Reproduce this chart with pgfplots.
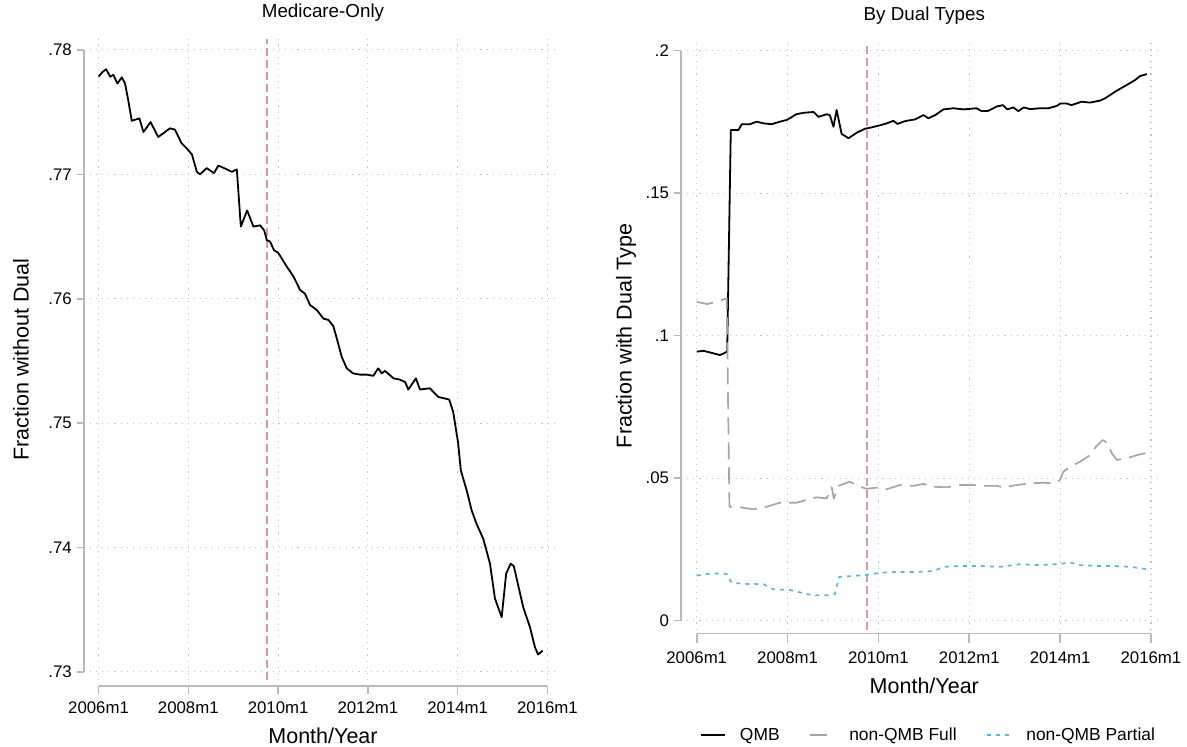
\documentclass[border=0pt]{standalone}
\usepackage{fontspec}
\setmainfont{Liberation Sans}
\usepackage{pgfplots}
\pgfplotsset{compat=1.18}

\definecolor{axgray}{RGB}{185,185,185}
\definecolor{gridgray}{RGB}{195,195,195}
\definecolor{xlinepink}{RGB}{214,150,188}
\definecolor{fullgray}{RGB}{165,165,165}
\definecolor{partblue}{RGB}{90,180,230}

\pgfplotsset{
  stata/.style={
    scale only axis,
    clip=false,
    axis line style={draw=none},
    major tick length=0pt,
    tick style={draw=none},
    grid=major,
    grid style={draw=gridgray, line width=1.1pt, dash pattern=on 1.1pt off 5pt},
    xtick={2006,2008,2010,2012,2014,2016},
    xticklabels={2006m1,2008m1,2010m1,2012m1,2014m1,2016m1},
    xticklabel style={anchor=north, inner sep=0pt, yshift=-22pt, font=\fontsize{16.8}{19}\selectfont},
    yticklabel style={anchor=east, inner sep=0pt, xshift=-18pt, font=\fontsize{16.8}{19}\selectfont},
    title style={font=\fontsize{18.8}{22}\selectfont, at={(0.5,1)}, anchor=center, yshift=20pt},
    label style={font=\fontsize{21.5}{25}\selectfont},
    xlabel={Month/Year},
  }
}

\begin{document}
\begin{tikzpicture}
\path[use as bounding box] (0,0) rectangle (1187pt,747pt);

% ---------------- Left panel ----------------
\begin{axis}[stata,
  at={(90pt,67pt)}, anchor=south west,
  width=466pt, height=641pt,
  xmin=2005.81, xmax=2016.19,
  ymin=0.72935, ymax=0.78088,
  ytick={0.73,0.74,0.75,0.76,0.77,0.78},
  yticklabels={.73,.74,.75,.76,.77,.78},
  title={Medicare-Only},
  ylabel={Fraction without Dual},
  xlabel style={at={(axis description cs:0.5,-0.0874)}, anchor=center},
  ylabel style={at={(axis description cs:-0.148,0.5)}, anchor=center},
]
\addplot[xlinepink, line width=1.6pt, dash pattern=on 8pt off 4pt, forget plot]
  coordinates {(2009.75,0.72935) (2009.75,0.78088)};
\addplot[black, line width=1.8pt, line join=round] coordinates {
(2006.00,0.77785) (2006.08,0.7782) (2006.17,0.77845) (2006.26,0.77785) (2006.33,0.7780)
(2006.42,0.7773) (2006.52,0.7778) (2006.59,0.7773) (2006.66,0.7760) (2006.74,0.7743)
(2006.91,0.7745) (2007.00,0.7734) (2007.16,0.7742) (2007.33,0.7730) (2007.48,0.7734)
(2007.59,0.7737) (2007.70,0.7736) (2007.85,0.7725) (2007.96,0.7721) (2008.08,0.7716)
(2008.19,0.7702) (2008.26,0.7700) (2008.41,0.7705) (2008.57,0.7701) (2008.67,0.7707)
(2008.86,0.7704) (2008.97,0.7702) (2009.08,0.7704) (2009.17,0.7658) (2009.31,0.7671)
(2009.45,0.7658) (2009.60,0.7659) (2009.69,0.7655) (2009.75,0.7647) (2009.82,0.7646)
(2009.91,0.7639) (2010.00,0.7637) (2010.19,0.7626) (2010.34,0.7618) (2010.49,0.7607)
(2010.60,0.7604) (2010.71,0.7595) (2010.86,0.7591) (2011.01,0.7584) (2011.12,0.7583)
(2011.23,0.7578) (2011.30,0.7569) (2011.42,0.7553) (2011.53,0.7544) (2011.67,0.7540)
(2011.82,0.7539) (2011.97,0.7539) (2012.12,0.7538) (2012.23,0.7544) (2012.31,0.7540)
(2012.38,0.7542) (2012.57,0.7536) (2012.71,0.7535) (2012.83,0.7533) (2012.90,0.7527)
(2013.07,0.7536) (2013.16,0.7527) (2013.38,0.7528) (2013.57,0.7521) (2013.81,0.7519)
(2013.90,0.7509) (2014.01,0.7484) (2014.07,0.7462) (2014.20,0.7446) (2014.31,0.7430)
(2014.42,0.7419) (2014.57,0.7407) (2014.72,0.7387) (2014.83,0.7359) (2014.98,0.7344)
(2015.08,0.7379) (2015.18,0.7387) (2015.25,0.7385) (2015.46,0.7352) (2015.61,0.7336)
(2015.72,0.7320) (2015.79,0.7314) (2015.89,0.7317)
};
% axis lines and ticks (Stata style, offset from the plot region)
\draw[axgray, line width=1.6pt] ([xshift=-6pt]axis cs:2005.81,0.73) -- ([xshift=-6pt]axis cs:2005.81,0.78);
\pgfplotsinvokeforeach{0.73,0.74,0.75,0.76,0.77,0.78}{
  \draw[axgray, line width=1.6pt] ([xshift=-6pt]axis cs:2005.81,#1) -- ([xshift=-13pt]axis cs:2005.81,#1);
}
\draw[axgray, line width=1.6pt] ([yshift=-6pt]axis cs:2006,0.72935) -- ([yshift=-6pt]axis cs:2016,0.72935);
\pgfplotsinvokeforeach{2006,2008,2010,2012,2014,2016}{
  \draw[axgray, line width=1.6pt] ([yshift=-6pt]axis cs:#1,0.72935) -- ([yshift=-14pt]axis cs:#1,0.72935);
}
\end{axis}

% ---------------- Right panel ----------------
\begin{axis}[stata,
  at={(687.2pt,117.3pt)}, anchor=south west,
  width=474.2pt, height=588pt,
  xmin=2005.79, xmax=2016.23,
  ymin=-0.00316, ymax=0.20316,
  ytick={0,0.05,0.1,0.15,0.2},
  yticklabels={0,.05,.1,.15,.2},
  title={By Dual Types},
  ylabel={Fraction with Dual Type},
  xlabel style={at={(axis description cs:0.5,-0.0952)}, anchor=center},
  ylabel style={at={(axis description cs:-0.129,0.5)}, anchor=center},
  legend style={at={(axis description cs:0.509,-0.179)}, anchor=center,
    draw=none, fill=none, legend columns=3,
    font=\fontsize{17.4}{20}\selectfont,
    /tikz/every odd column/.append style={column sep=12pt},
    /tikz/every even column/.append style={column sep=28pt}},
  legend image code/.code={\draw[#1] (0pt,0pt) -- (24pt,0pt);},
]
\addplot[xlinepink, line width=1.6pt, dash pattern=on 8pt off 4pt, forget plot]
  coordinates {(2009.75,-0.00316) (2009.75,0.20316)};
\addplot[black, line width=1.8pt, line join=round] coordinates {
(2006.00,0.0944) (2006.15,0.0947) (2006.22,0.0944) (2006.37,0.0938) (2006.51,0.0932)
(2006.62,0.0940) (2006.67,0.0944) (2006.75,0.1722) (2006.92,0.1722) (2006.99,0.1742)
(2007.17,0.1742) (2007.32,0.1751) (2007.47,0.1745) (2007.65,0.1742) (2007.83,0.1751)
(2007.98,0.1757) (2008.05,0.1763) (2008.19,0.1777) (2008.35,0.1782) (2008.57,0.1785)
(2008.68,0.1768) (2008.86,0.1777) (2008.93,0.1774) (2009.01,0.1733) (2009.08,0.1792)
(2009.19,0.1708) (2009.34,0.1693) (2009.52,0.1712) (2009.70,0.1726) (2009.85,0.1731)
(2010.03,0.1738) (2010.18,0.1745) (2010.33,0.1754) (2010.42,0.1743) (2010.55,0.1751)
(2010.62,0.1754) (2010.81,0.1759) (2010.99,0.1774) (2011.10,0.1763) (2011.25,0.1774)
(2011.43,0.1794) (2011.65,0.1798) (2011.87,0.1794) (2012.16,0.1798) (2012.27,0.1788)
(2012.42,0.1789) (2012.60,0.1804) (2012.74,0.1809) (2012.84,0.1794) (2012.97,0.1801)
(2013.08,0.1788) (2013.20,0.1801) (2013.34,0.1795) (2013.56,0.1798) (2013.74,0.1798)
(2013.92,0.1806) (2014.01,0.1815) (2014.14,0.1815) (2014.25,0.1809) (2014.47,0.1821)
(2014.66,0.1818) (2014.88,0.1825) (2014.99,0.1833) (2015.25,0.1860) (2015.47,0.1880)
(2015.65,0.1897) (2015.76,0.1911) (2015.91,0.1918)
};
\addlegendentry{QMB}
\addplot[fullgray, line width=1.7pt, dash pattern=on 17pt off 8pt, line join=round] coordinates {
(2006.00,0.1119) (2006.22,0.1111) (2006.44,0.1119) (2006.66,0.1131) (2006.72,0.0400)
(2006.95,0.0398) (2007.25,0.0391) (2007.54,0.0400) (2007.83,0.0414) (2008.20,0.0414)
(2008.42,0.0424) (2008.64,0.0433) (2008.86,0.0429) (2008.97,0.0468) (2009.02,0.0429)
(2009.12,0.0473) (2009.37,0.0488) (2009.59,0.0470) (2009.74,0.0463) (2010.03,0.0468)
(2010.18,0.0461) (2010.47,0.0476) (2010.77,0.0473) (2010.99,0.0480) (2011.21,0.0470)
(2011.50,0.0468) (2011.80,0.0476) (2012.09,0.0476) (2012.38,0.0473) (2012.60,0.0473)
(2012.75,0.0468) (2013.04,0.0476) (2013.34,0.0482) (2013.63,0.0484) (2013.85,0.0482)
(2014.00,0.0494) (2014.07,0.0523) (2014.22,0.0540) (2014.44,0.0558) (2014.66,0.0581)
(2014.80,0.0613) (2014.94,0.0634) (2015.03,0.0625) (2015.14,0.0587) (2015.25,0.0564)
(2015.47,0.0570) (2015.69,0.0581) (2015.91,0.0589)
};
\addlegendentry{non-QMB Full}
\addplot[partblue, line width=1.7pt, dash pattern=on 4pt off 5pt, line join=round] coordinates {
(2006.00,0.0158) (2006.22,0.0164) (2006.51,0.0166) (2006.66,0.0164) (2006.77,0.0133)
(2007.10,0.0129) (2007.47,0.0128) (2007.69,0.0110) (2008.05,0.0108) (2008.35,0.0096)
(2008.57,0.0089) (2008.86,0.0089) (2009.04,0.0093) (2009.14,0.0154) (2009.45,0.0157)
(2009.74,0.0161) (2010.03,0.0168) (2010.40,0.0171) (2010.77,0.0171) (2011.21,0.0174)
(2011.43,0.0189) (2011.87,0.0192) (2012.24,0.0192) (2012.68,0.0189) (2013.12,0.0198)
(2013.56,0.0195) (2014.00,0.0199) (2014.22,0.0204) (2014.44,0.0195) (2014.81,0.0192)
(2015.17,0.0192) (2015.54,0.0189) (2015.91,0.0181)
};
\addlegendentry{non-QMB Partial}
\draw[axgray, line width=1.6pt] ([xshift=-6pt]axis cs:2005.79,0) -- ([xshift=-6pt]axis cs:2005.79,0.2);
\pgfplotsinvokeforeach{0,0.05,0.1,0.15,0.2}{
  \draw[axgray, line width=1.6pt] ([xshift=-6pt]axis cs:2005.79,#1) -- ([xshift=-13pt]axis cs:2005.79,#1);
}
\draw[axgray, line width=1.6pt] ([yshift=-4pt]axis cs:2006,-0.00316) -- ([yshift=-4pt]axis cs:2016,-0.00316);
\pgfplotsinvokeforeach{2006,2008,2010,2012,2014,2016}{
  \draw[axgray, line width=1.6pt] ([yshift=-4pt]axis cs:#1,-0.00316) -- ([yshift=-13pt]axis cs:#1,-0.00316);
}
\end{axis}
\end{tikzpicture}
\end{document}
